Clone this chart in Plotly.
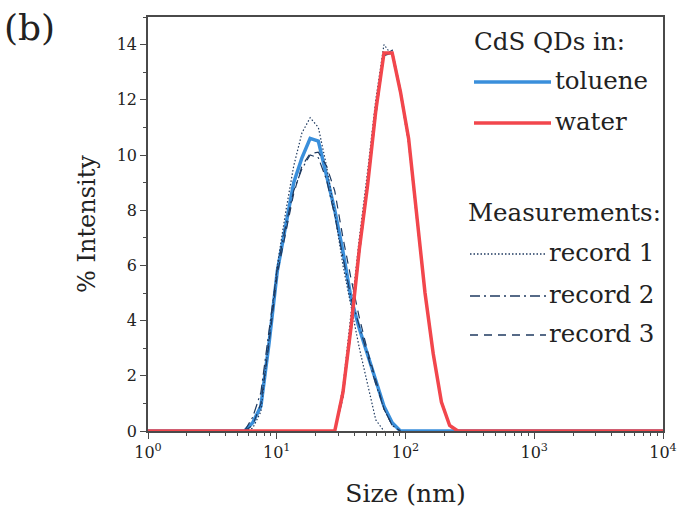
import plotly.graph_objects as go

# DLS size distribution (intensity-weighted) of CdS QDs in toluene and water
SIZE_NM = [1.0, 5.615, 6.503, 7.531, 8.721, 10.10, 11.70, 13.54, 15.69, 18.17,
           21.04, 24.36, 28.21, 32.67, 37.84, 43.82, 50.75, 58.77, 68.06, 78.82,
           91.28, 105.7, 122.4, 141.8, 164.2, 190.1, 220.2, 255.0, 10000.0]

TOLUENE_MEAN = [0, 0, 0.3, 0.9, 3.2, 5.8, 7.4, 9.0, 9.9, 10.6,
                10.5, 9.2, 8.0, 6.5, 4.8, 3.7, 2.8, 1.8, 0.9, 0.3,
                0, 0, 0, 0, 0, 0, 0, 0, 0]
TOLUENE_REC1 = [0, 0, 0.1, 0.7, 3.3, 6.0, 7.9, 9.6, 10.8, 11.35,
                11.0, 9.6, 7.9, 6.0, 4.5, 3.0, 1.7, 0.4, 0, 0,
                0, 0, 0, 0, 0, 0, 0, 0, 0]
TOLUENE_REC2 = [0, 0, 0.5, 1.4, 3.6, 5.9, 7.4, 8.7, 9.5, 10.0,
                9.9, 9.1, 7.8, 6.3, 4.8, 3.8, 2.7, 1.7, 0.8, 0.2,
                0, 0, 0, 0, 0, 0, 0, 0, 0]
TOLUENE_REC3 = [0, 0, 0.2, 1.0, 3.2, 5.7, 7.2, 8.6, 9.6, 10.05,
                10.1, 9.6, 8.7, 7.0, 5.5, 4.1, 2.9, 1.8, 0.8, 0.2,
                0, 0, 0, 0, 0, 0, 0, 0, 0]

WATER_MEAN = [0, 0, 0, 0, 0, 0, 0, 0, 0, 0,
              0, 0, 0, 1.4, 3.8, 6.6, 8.9, 11.6, 13.7, 13.7,
              12.3, 10.6, 7.8, 5.0, 2.8, 1.05, 0.2, 0, 0]
WATER_REC1 = [0, 0, 0, 0, 0, 0, 0, 0, 0, 0,
              0, 0, 0, 1.6, 4.3, 7.0, 9.4, 12.0, 14.0, 13.6,
              12.2, 10.4, 7.6, 4.9, 2.7, 1.0, 0.15, 0, 0]
WATER_REC2 = [0, 0, 0, 0, 0, 0, 0, 0, 0, 0,
              0, 0, 0, 1.2, 3.7, 6.4, 8.8, 11.5, 13.6, 13.8,
              12.4, 10.7, 7.9, 5.1, 2.8, 1.1, 0.2, 0, 0]
WATER_REC3 = [0, 0, 0, 0, 0, 0, 0, 0, 0, 0,
              0, 0, 0, 1.3, 3.6, 6.5, 8.8, 11.4, 13.6, 13.7,
              12.3, 10.6, 7.9, 5.1, 2.9, 1.1, 0.25, 0, 0]

X_TICKS = [1, 10, 100, 1000, 10000]
X_TICK_TEXT = ["10<sup>0</sup>", "10<sup>1</sup>", "10<sup>2</sup>",
               "10<sup>3</sup>", "10<sup>4</sup>"]
Y_TICKS = [0, 2, 4, 6, 8, 10, 12, 14]

BLUE = "#3a8fdb"
RED = "#f2464c"
NAVY = "#1f3a60"
AXIS = "#4a4a4a"
TEXT = "#222222"
FONT = "DejaVu Serif"

W, H = 677, 515
L, R, T, B = 148, 14, 17, 84

DASHES = ["1.5px,2px", "10px,4px,2px,4px", "8px,6px"]


def trim(xs, ys):
    """Keep only the populated part of a record (plus one empty bin each side)."""
    nz = [i for i, v in enumerate(ys) if v > 0]
    a, b = max(nz[0] - 1, 0), min(nz[-1] + 1, len(ys) - 1)
    return xs[a:b + 1], ys[a:b + 1]


def add_records(fig, recs, width):
    for ys, dash in zip(recs, DASHES):
        xs_t, ys_t = trim(SIZE_NM, ys)
        fig.add_trace(go.Scatter(x=xs_t, y=ys_t, mode="lines",
                                 line=dict(color=NAVY, width=width, dash=dash),
                                 showlegend=False))


fig = go.Figure()

fig.add_trace(go.Scatter(x=SIZE_NM, y=TOLUENE_MEAN, mode="lines",
                         line=dict(color=BLUE, width=3.5), showlegend=False))
add_records(fig, [TOLUENE_REC1, TOLUENE_REC2, TOLUENE_REC3], 1.2)
add_records(fig, [WATER_REC1, WATER_REC2, WATER_REC3], 1.2)
fig.add_trace(go.Scatter(x=SIZE_NM, y=WATER_MEAN, mode="lines",
                         line=dict(color=RED, width=3.5), showlegend=False))

minor_x = [m * 10 ** k for k in range(4) for m in range(2, 10)]

fig.update_xaxes(
    type="log", range=[0, 4], automargin=False,
    tickvals=X_TICKS, ticktext=X_TICK_TEXT,
    ticks="outside", ticklen=6, tickwidth=1.3, tickcolor=AXIS,
    showline=True, linecolor=AXIS, linewidth=1.5, mirror=True,
    showgrid=False, zeroline=False,
    minor=dict(tickvals=minor_x, ticks="outside", ticklen=3.5,
               tickwidth=1.2, tickcolor=AXIS, showgrid=False),
    tickfont=dict(family=FONT, size=16, color=TEXT),
    title=dict(text="Size (nm)", font=dict(family=FONT, size=25, color=TEXT),
               standoff=24),
)
fig.update_yaxes(
    range=[0, 15], tickvals=Y_TICKS, automargin=False,
    ticks="outside", ticklen=6, tickwidth=1.3, tickcolor=AXIS,
    showline=True, linecolor=AXIS, linewidth=1.5, mirror=True,
    showgrid=False, zeroline=False,
    minor=dict(dtick=1, ticks="outside", ticklen=3.5, tickwidth=1.2,
               tickcolor=AXIS, showgrid=False),
    tickfont=dict(family=FONT, size=16, color=TEXT),
    title=dict(text="% Intensity", font=dict(family=FONT, size=24, color=TEXT),
               standoff=14),
)


# Hand-built legend, placed in paper coordinates from pixel positions
def px(xp):
    return (xp - L) / (W - L - R)


def py(yp):
    return (H - B - yp) / (H - T - B)


shapes = []
annotations = []


def legend_text(text, x0, yc, size=24.5):
    annotations.append(dict(text=text, x=px(x0), y=py(yc), xref="paper", yref="paper",
                            xanchor="left", yanchor="middle", showarrow=False,
                            font=dict(family=FONT, size=size, color=TEXT)))


def legend_line(x0, x1, yc, color, width, dash="solid"):
    shapes.append(dict(type="line", xref="paper", yref="paper",
                       x0=px(x0), x1=px(x1), y0=py(yc), y1=py(yc),
                       line=dict(color=color, width=width, dash=dash)))


legend_text("CdS QDs in:", 472, 41)
legend_line(474, 551, 82, BLUE, 3.5)
legend_text("toluene", 553, 80)
legend_line(474, 551, 123, RED, 3.5)
legend_text("water", 553, 121)
legend_text("Measurements:", 466, 212)
for i, (yc, dash) in enumerate(zip([254, 296, 335], DASHES), start=1):
    legend_line(470, 546, yc, NAVY, 1.3, dash)
    legend_text(f"record {i}", 547, yc - 2)

# panel tag
legend_text("(b)", 2, 27, size=36)

fig.update_layout(
    width=W, height=H, autosize=False,
    margin=dict(l=L, r=R, t=T, b=B),
    plot_bgcolor="white", paper_bgcolor="white",
    showlegend=False,
    shapes=shapes, annotations=annotations,
)

fig.write_html("out.html", config={"responsive": False})
